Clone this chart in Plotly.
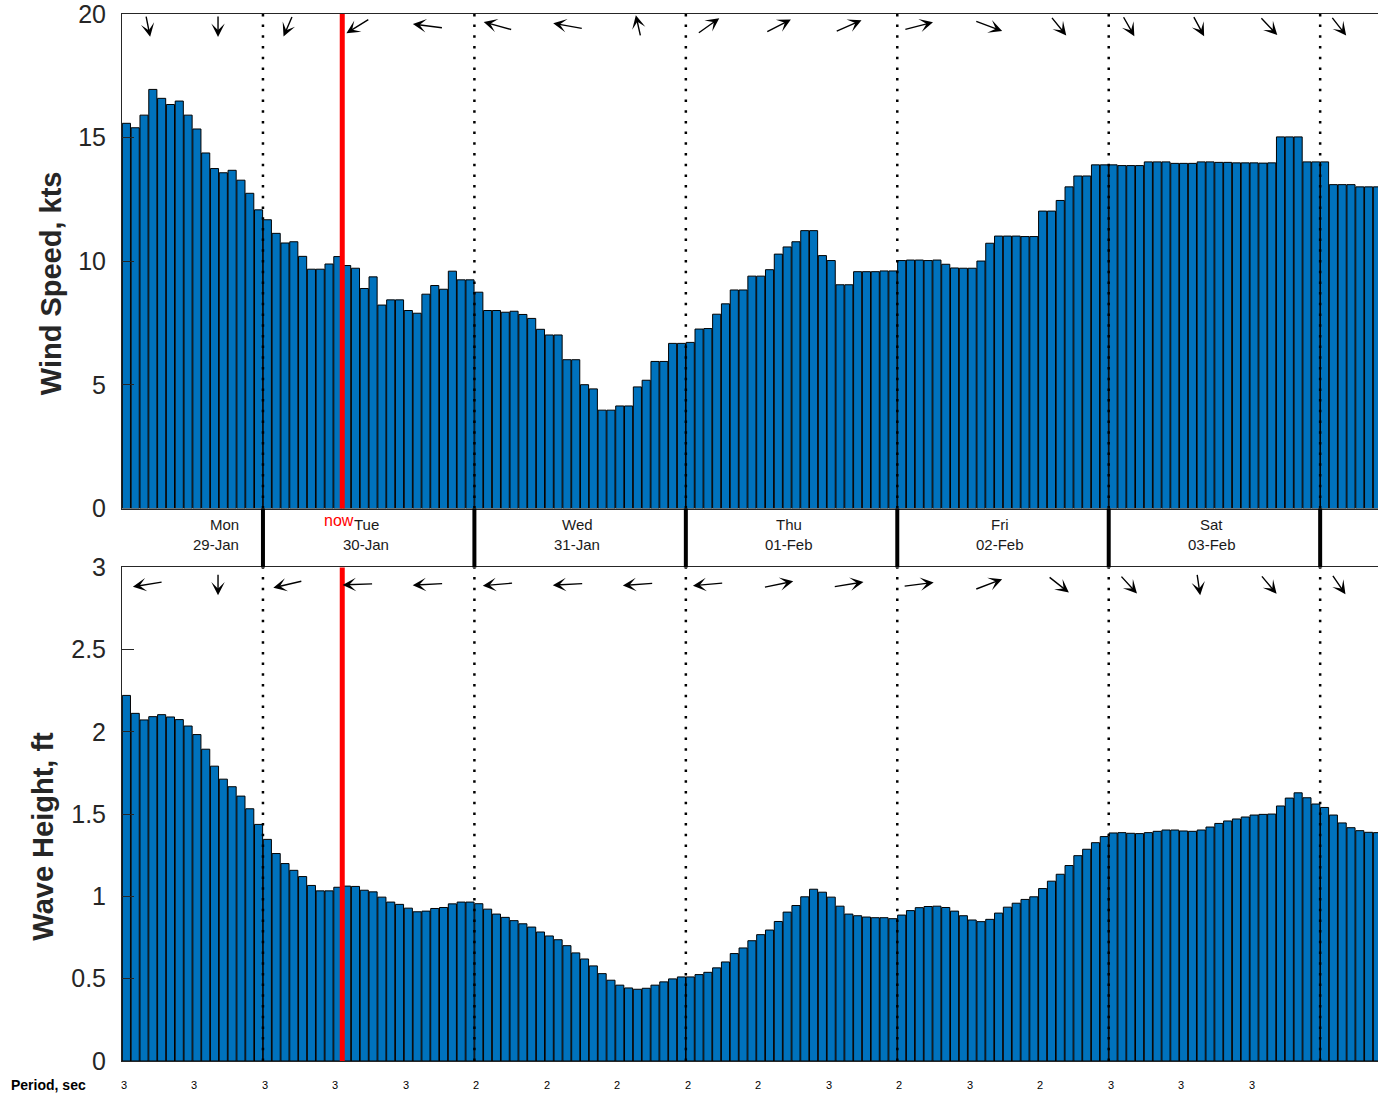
import math
import plotly.graph_objects as go

# ---------------- data ----------------
wind_kts = [
    15.58, 15.40, 15.91, 16.95, 16.59, 16.34, 16.48, 15.91, 15.35, 14.38,
    13.75, 13.58, 13.68, 13.28, 12.75, 12.08, 11.68, 11.13, 10.74, 10.79,
    10.20, 9.68, 9.68, 9.89, 10.19, 9.83, 9.72, 8.90, 9.37, 8.23,
    8.44, 8.44, 8.01, 7.90, 8.67, 9.02, 8.87, 9.60, 9.25, 9.25,
    8.75, 8.01, 8.01, 7.94, 7.98, 7.85, 7.69, 7.25, 7.02, 7.02,
    6.02, 6.02, 5.01, 4.84, 3.98, 3.98, 4.15, 4.15, 4.92, 5.19,
    5.95, 5.95, 6.68, 6.68, 6.72, 7.26, 7.28, 7.86, 8.28, 8.84,
    8.84, 9.40, 9.40, 9.66, 10.29, 10.58, 10.79, 11.24, 11.24, 10.23,
    10.03, 9.05, 9.05, 9.58, 9.58, 9.58, 9.61, 9.61, 10.03, 10.05,
    10.05, 10.03, 10.05, 9.88, 9.73, 9.72, 9.72, 10.01, 10.73, 11.02,
    11.02, 11.02, 11.00, 11.00, 12.03, 12.03, 12.46, 13.01, 13.45, 13.45,
    13.90, 13.90, 13.90, 13.87, 13.87, 13.87, 14.02, 14.02, 14.02, 13.96,
    13.96, 13.96, 14.02, 14.02, 14.00, 14.00, 13.98, 13.98, 13.98, 13.97,
    13.98, 15.03, 15.03, 15.03, 14.02, 14.02, 14.02, 13.10, 13.10, 13.10,
    13.01, 13.01, 13.01,
]
wave_ft = [
    2.222, 2.113, 2.073, 2.093, 2.105, 2.091, 2.075, 2.036, 1.984, 1.895,
    1.792, 1.713, 1.667, 1.610, 1.533, 1.438, 1.347, 1.261, 1.200, 1.159,
    1.121, 1.067, 1.034, 1.034, 1.056, 1.063, 1.061, 1.038, 1.028, 0.996,
    0.966, 0.952, 0.929, 0.907, 0.911, 0.927, 0.933, 0.955, 0.966, 0.966,
    0.956, 0.923, 0.893, 0.873, 0.853, 0.834, 0.814, 0.784, 0.760, 0.737,
    0.701, 0.657, 0.620, 0.578, 0.531, 0.491, 0.461, 0.444, 0.436, 0.442,
    0.461, 0.481, 0.499, 0.511, 0.511, 0.525, 0.539, 0.566, 0.602, 0.653,
    0.687, 0.731, 0.768, 0.796, 0.848, 0.905, 0.945, 0.998, 1.044, 1.026,
    0.996, 0.941, 0.893, 0.883, 0.875, 0.871, 0.871, 0.865, 0.887, 0.914,
    0.932, 0.939, 0.941, 0.933, 0.911, 0.883, 0.857, 0.847, 0.861, 0.899,
    0.935, 0.959, 0.982, 0.998, 1.048, 1.093, 1.135, 1.188, 1.248, 1.287,
    1.327, 1.364, 1.386, 1.388, 1.384, 1.382, 1.388, 1.396, 1.404, 1.404,
    1.398, 1.396, 1.404, 1.422, 1.444, 1.459, 1.471, 1.483, 1.495, 1.499,
    1.501, 1.550, 1.598, 1.630, 1.600, 1.562, 1.541, 1.495, 1.447, 1.418,
    1.400, 1.390, 1.388,
]
period_sec = [3, 3, 3, 3, 3, 2, 2, 2, 2, 2, 3, 2, 3, 2, 3, 3, 3]
# direction the arrows point to (compass degrees, 0 = up, 90 = right), one every 8 hours
wind_dir_deg = [172, 180, 197, 229, 280, 291, 284, 351, 45, 54, 58, 70, 118, 150, 158, 159, 146, 151]
wave_dir_deg = [257, 180, 252, 267, 266, 263, 266, 264, 263, 74, 77, 80, 62, 138, 147, 174, 149, 154]
day_names = ["Mon", "Tue", "Wed", "Thu", "Fri", "Sat"]
day_dates = ["29-Jan", "30-Jan", "31-Jan", "01-Feb", "02-Feb", "03-Feb"]
first_hour = 8          # first bar is 08:00 on Monday
now_hours = 24.5        # hours after first bar

# ---------------- geometry ----------------
W, H = 1378, 1097
ML, MR, MT, MB = 122, 0, 11, 36
PH = H - MT - MB
PW = W - ML - MR
HOUR_PX = 8.81
n = len(wind_kts)
x = list(range(n))
xr = [-0.5, -0.5 + PW / HOUR_PX]


def py(p):  # pixel row -> paper y
    return (H - MB - p) / PH


top_dom = [py(507), 1.0]
bot_dom = [0.0, py(566)]

AX = "#262626"
BLUE = "#0072BD"
FONT = "Liberation Sans, Arial, sans-serif"

fig = go.Figure()
fig.add_trace(go.Bar(x=x, y=wind_kts, xaxis="x", yaxis="y",
                     marker=dict(color=BLUE, line=dict(color="black", width=1)),
                     hoverinfo="y", showlegend=False))
fig.add_trace(go.Bar(x=x, y=wave_ft, xaxis="x2", yaxis="y2",
                     marker=dict(color=BLUE, line=dict(color="black", width=1)),
                     hoverinfo="y", showlegend=False))

xcommon = dict(range=xr, showline=True, mirror=True, linecolor=AX, linewidth=1,
               showticklabels=False, ticks="", showgrid=False, zeroline=False)
ycommon = dict(showline=True, linecolor=AX, linewidth=1, ticks="inside", ticklen=12,
               tickcolor=AX, tickwidth=1, showgrid=False, zeroline=False,
               ticklabeloverflow="allow", ticklabelstandoff=10,
               tickfont=dict(family=FONT, size=25, color=AX))

fig.update_layout(
    width=W, height=H,
    margin=dict(l=ML, r=MR, t=MT, b=MB, pad=0),
    paper_bgcolor="white", plot_bgcolor="white",
    bargap=0.08,
    xaxis=dict(domain=[0, 1], anchor="y", **xcommon),
    yaxis=dict(domain=top_dom, anchor="x", range=[0, 20], tickvals=[0, 5, 10, 15, 20], **ycommon),
    xaxis2=dict(domain=[0, 1], anchor="y2", **xcommon),
    yaxis2=dict(domain=bot_dom, anchor="x2", range=[0, 3],
                tickvals=[0, 0.5, 1, 1.5, 2, 2.5, 3], ticktext=["0", "0.5", "1", "1.5", "2", "2.5", "3"],
                **ycommon),
)

shapes = []
annotations = []

# day boundaries (midnights)
midnights = [h - 0.5 for h in range(0, n + 1) if (first_hour + h) % 24 == 0]
for m in midnights:
    for xref, yref in (("x", "y domain"), ("x2", "y2 domain")):
        shapes.append(dict(type="line", xref=xref, yref=yref, x0=m, x1=m, y0=0, y1=1,
                           line=dict(color="black", width=2.5, dash="2.5px,8.2px"), layer="above"))
    shapes.append(dict(type="line", xref="x", yref="paper", x0=m, x1=m, y0=bot_dom[1], y1=top_dom[0],
                       line=dict(color="black", width=4), layer="above"))

# now line
for xref, yref in (("x", "y domain"), ("x2", "y2 domain")):
    shapes.append(dict(type="line", xref=xref, yref=yref, x0=now_hours, x1=now_hours, y0=0, y1=1,
                       line=dict(color="red", width=5), layer="above"))
annotations.append(dict(text="now", xref="x", yref="paper", x=now_hours - 0.4, y=py(519),
                        showarrow=False, xanchor="center", yanchor="middle",
                        font=dict(family=FONT, size=16, color="red")))

# day labels
day_centers = [m + 12 - 0.3 for m in midnights]
label_x = [midnights[0] - 2.5] + day_centers[:len(day_names) - 1]
for i, (nm, dt) in enumerate(zip(day_names, day_dates)):
    xa = "right" if i == 0 else "center"
    annotations.append(dict(text=nm, xref="x", yref="paper", x=label_x[i], y=py(523),
                            showarrow=False, xanchor=xa, yanchor="middle",
                            font=dict(family=FONT, size=15, color="#1a1a1a")))
    annotations.append(dict(text=dt, xref="x", yref="paper", x=label_x[i], y=py(543),
                            showarrow=False, xanchor=xa, yanchor="middle",
                            font=dict(family=FONT, size=15, color="#1a1a1a")))

# axis titles
annotations.append(dict(text="<b>Wind Speed, kts</b>", xref="paper", yref="paper",
                        x=(51 - ML) / PW, y=py(281), textangle=-90, showarrow=False,
                        xanchor="center", yanchor="middle",
                        font=dict(family=FONT, size=29, color=AX)))
annotations.append(dict(text="<b>Wave Height, ft</b>", xref="paper", yref="paper",
                        x=(43 - ML) / PW, y=py(836), textangle=-90, showarrow=False,
                        xanchor="center", yanchor="middle",
                        font=dict(family=FONT, size=29, color=AX)))

# period row
annotations.append(dict(text="<b>Period, sec</b>", xref="paper", yref="paper",
                        x=(9 - ML) / PW, y=py(1085), showarrow=False, xanchor="left", yanchor="middle",
                        font=dict(family=FONT, size=14, color="black")))
for k, p in enumerate(period_sec):
    annotations.append(dict(text=str(p), xref="x", yref="paper", x=k * 8 - 0.5, xshift=-3, y=py(1085),
                            showarrow=False, xanchor="left", yanchor="middle",
                            font=dict(family=FONT, size=11, color="black")))

# direction arrows
LX, LY = 31.0, 22.0
ARROW_X0, ARROW_DX = 2.45, 7.95


def add_arrows(dirs, xref, yref, yc_px, px_per_unit, ytop):
    for k, d in enumerate(dirs):
        xc = ARROW_X0 + ARROW_DX * k
        vx = LX * math.sin(math.radians(d))
        vy = -LY * math.cos(math.radians(d))   # screen (down positive)
        hx = xc + (vx / 2) / HOUR_PX
        hy = ytop - (yc_px + vy / 2) / px_per_unit
        annotations.append(dict(x=hx, y=hy, xref=xref, yref=yref, ax=-vx, ay=-vy,
                                axref="pixel", ayref="pixel", text="", showarrow=True,
                                arrowhead=3, arrowsize=1.6, arrowwidth=1.4, arrowcolor="black",
                                standoff=0))


add_arrows(wind_dir_deg, "x", "y", 12.0, 496 / 20, 20)
add_arrows(wave_dir_deg, "x2", "y2", 17.0, 495 / 3, 3)

fig.update_layout(shapes=shapes, annotations=annotations)

fig.write_html("out.html", config={"displayModeBar": False},
               post_script="document.body.style.margin='0';")
